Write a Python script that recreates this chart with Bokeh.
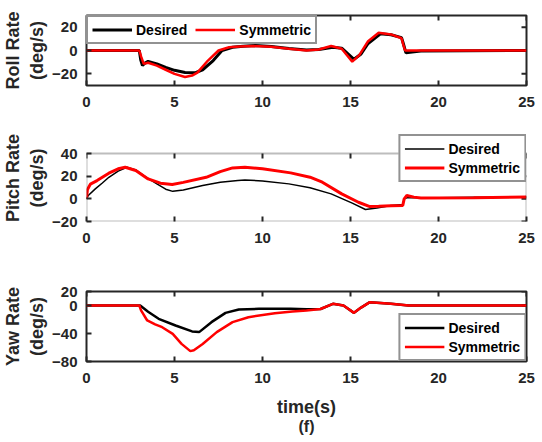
import numpy as np
from bokeh.plotting import figure
from bokeh.layouts import column
from bokeh.models import FixedTicker, Legend, LegendItem, Title, Range1d, BoxAnnotation
from bokeh.embed import file_html
from bokeh.resources import INLINE

# ---------------- data ----------------
roll_des_t = [0, 3.0, 3.08, 3.18, 3.3, 3.5, 4.0, 4.5, 5.0, 5.6, 6.2, 6.6, 7.2, 7.7, 8.3, 8.9, 9.6,
              10.5, 11.5, 12.5, 13.2, 14.0, 14.5, 15.2, 15.6, 16.0, 16.7, 17.3, 17.9, 18.0, 18.15,
              18.5, 19.0, 25]
roll_des_y = [0, 0, -8, -12.8, -11, -9.3, -11.5, -14.5, -17, -18.8, -19, -16.5, -8.6, 0, 2.8, 3.6,
              4.2, 3.5, 1.8, 0.5, 0.8, 2.8, 2.0, -7.5, -3, 6, 14.3, 13.5, 11, 6, -2, -1.2, -0.5, 0]
roll_sym_t = [0, 3.0, 3.1, 3.25, 3.5, 4.0, 4.5, 5.0, 5.6, 6.0, 6.3, 6.9, 7.5, 8.1, 8.7, 9.5, 10.5,
              11.5, 12.5, 13.2, 13.9, 14.5, 15.1, 15.5, 16.0, 16.6, 17.3, 17.9, 18.0, 18.1, 25]
roll_sym_y = [0, 0, -5, -11.5, -10.5, -13, -16.5, -20, -22.7, -21.5, -19, -8.6, 0, 2.8, 3.5, 3.8,
              3.2, 1.5, 0, 0.8, 3.8, 1.5, -9.5, -4, 8, 15.2, 13.8, 10.5, 5, 0, 0]

pitch_des_t = [0, 0.1, 0.5, 0.9, 1.27, 1.8, 2.3, 2.8, 3.4, 4.0, 4.5, 4.9, 5.5, 6.6, 7.6, 8.6, 9.0,
               10.0, 11.5, 12.7, 13.9, 15.1, 15.85, 16.5, 17.3, 17.97, 18.05, 18.2, 19, 20, 22, 25]
pitch_des_y = [0, 3, 8.8, 14, 19, 24.5, 27.9, 25.5, 19, 13.2, 8.5, 6.6, 7.8, 11.7, 14.6, 16.2, 16.7,
               15.8, 13.2, 9.7, 4.4, -3.8, -9.4, -8, -5.9, -5, 0, 1, 1, 1, 1.3, 1.6]
pitch_sym_t = [0, 0.05, 0.22, 0.6, 1.27, 1.8, 2.2, 2.8, 3.5, 4.2, 4.87, 5.5, 6.8, 7.6, 8.3, 9.0, 10,
               11.6, 12.7, 13.4, 14.5, 15.45, 16.1, 16.6, 17.3, 17.97, 18.05, 18.2, 18.6, 19, 22, 25]
pitch_sym_y = [0, 8, 13, 16.1, 22.6, 26.5, 27.9, 25, 17.6, 13.8, 12.6, 14.5, 19, 24, 27.3, 27.9,
               26.5, 22.9, 19.1, 14.7, 4.4, -3, -6.8, -6.5, -6, -5.8, 0, 2.9, 1.5, 0.7, 1, 1.6]

yaw_des_t = [0, 3.05, 3.5, 4.1, 5.06, 6.0, 6.4, 7.1, 7.9, 8.65, 9.8, 11.6, 12.5, 13.3, 14.0, 14.6,
             15.2, 15.6, 16.1, 17.3, 18.3, 25]
yaw_des_y = [0, 0, -9, -19, -28.6, -37, -38, -23.8, -10.5, -5.7, -4.8, -4.8, -5.5, -5, 2.4, 0,
             -10.5, -3, 4.8, 2.4, 0, 0]
yaw_sym_t = [0, 3.0, 3.1, 3.45, 3.9, 4.3, 4.9, 5.4, 5.9, 6.1, 6.6, 7.4, 8.3, 9.2, 10.7, 11.7, 12.5,
             13.3, 14.0, 14.6, 15.2, 15.6, 16.1, 17.3, 18.3, 25]
yaw_sym_y = [0, 0, -7, -21.4, -27, -31, -40.5, -54.8, -65.2, -64, -55, -38, -23.8, -16.7, -11, -8.6,
             -7, -5, 2.4, 0, -10.5, -3, 4.8, 2.4, 0, 0]

x_lim = (0, 25)
x_ticks = [0, 5, 10, 15, 20, 25]
roll_lim = (-30, 30)
roll_ticks = [-20, 0, 20]
pitch_lim = (-20, 40)
pitch_ticks = [-20, 0, 20, 40]
yaw_lim = (-80, 20)
yaw_ticks = [-80, -40, 0, 20]

FONT = "Liberation Sans"
TXT = "#262626"


def make_panel(ylabel, ylim, yticks, frame_h, top, bottom, extra_top_px=0):
    # extra_top_px: frame extends above the axes box (room for an outside legend)
    ppu = frame_h / (ylim[1] - ylim[0])
    yr = Range1d(ylim[0], ylim[1] + extra_top_px / ppu)
    p = figure(width=542, frame_width=440, frame_height=frame_h + extra_top_px,
               min_border_left=86, min_border_right=16, min_border_top=top,
               min_border_bottom=bottom,
               x_range=Range1d(*x_lim), y_range=yr,
               output_backend="svg", toolbar_location=None)
    p.grid.visible = False
    p.background_fill_color = "white"
    p.border_fill_color = "white"
    if extra_top_px:
        p.outline_line_color = None
        p.add_layout(BoxAnnotation(left=x_lim[0], right=x_lim[1], bottom=ylim[0], top=ylim[1],
                                   fill_alpha=0, line_color=TXT, line_width=2))
    else:
        p.outline_line_color = TXT
        p.outline_line_width = 2
    p.xaxis.ticker = FixedTicker(ticks=x_ticks)
    p.yaxis.ticker = FixedTicker(ticks=yticks)
    p.yaxis.bounds = ylim
    for ax in p.xaxis + p.yaxis:
        ax.axis_line_color = None
        ax.major_tick_in = 5
        ax.major_tick_out = 0
        ax.major_tick_line_color = TXT
        ax.major_tick_line_width = 2
        ax.minor_tick_line_color = None
        ax.major_label_text_font = FONT
        ax.major_label_text_font_style = "bold"
        ax.major_label_text_font_size = "15px"
        ax.major_label_text_color = TXT
    p.xaxis.major_label_standoff = 11
    p.yaxis.major_label_standoff = 9
    p.yaxis.axis_label = ylabel
    p.yaxis.axis_label_text_font = FONT
    p.yaxis.axis_label_text_font_style = "bold"
    p.yaxis.axis_label_text_font_size = "18px"
    p.yaxis.axis_label_text_color = TXT
    p.yaxis.axis_label_standoff = 2
    # inward box ticks on the top and right edges
    p.ray(x=x_ticks, y=[ylim[1]] * len(x_ticks), length=5, length_units="screen",
          angle=-np.pi / 2, line_color=TXT, line_width=2)
    p.ray(x=[x_lim[1]] * len(yticks), y=yticks, length=5, length_units="screen",
          angle=np.pi, line_color=TXT, line_width=2)
    return p


def style_legend(lg):
    lg.label_text_font = FONT
    lg.label_text_font_style = "bold"
    lg.label_text_font_size = "14px"
    lg.label_text_color = "black"
    lg.border_line_color = TXT
    lg.border_line_width = 2
    lg.background_fill_color = "white"
    lg.background_fill_alpha = 1
    lg.glyph_width = 40
    lg.glyph_height = 17
    lg.label_height = 17
    lg.label_standoff = 4
    lg.padding = 4
    lg.spacing = 2
    lg.margin = 0


# ---- Roll ----
p1 = make_panel("Roll Rate\n(deg/s)", roll_lim, roll_ticks, 70, 15, 49)
r1a = p1.line(roll_des_t, roll_des_y, line_color="black", line_width=3)
r1b = p1.line(roll_sym_t, roll_sym_y, line_color="red", line_width=2.5)
lg1 = Legend(items=[LegendItem(label="Desired", renderers=[r1a]),
                    LegendItem(label="Symmetric", renderers=[r1b])],
             location="top_left", orientation="horizontal")
style_legend(lg1)
lg1.spacing = 8
p1.add_layout(lg1, "center")

# ---- Pitch ----
p2 = make_panel("Pitch Rate\n(deg/s)", pitch_lim, pitch_ticks, 68, 0, 55, extra_top_px=19)
r2a = p2.line(pitch_des_t, pitch_des_y, line_color="black", line_width=1.5)
r2b = p2.line(pitch_sym_t, pitch_sym_y, line_color="red", line_width=3)
lg2 = Legend(items=[LegendItem(label="Desired", renderers=[r2a]),
                    LegendItem(label="Symmetric", renderers=[r2b])],
             location="top_right")
style_legend(lg2)
p2.add_layout(lg2, "center")

# ---- Yaw ----
p3 = make_panel("Yaw Rate\n(deg/s)", yaw_lim, yaw_ticks, 70, 15, 81)
r3a = p3.line(yaw_des_t, yaw_des_y, line_color="black", line_width=2.5)
r3b = p3.line(yaw_sym_t, yaw_sym_y, line_color="red", line_width=2.5)
lg3 = Legend(items=[LegendItem(label="Desired", renderers=[r3a]),
                    LegendItem(label="Symmetric", renderers=[r3b])],
             location="bottom_right")
style_legend(lg3)
p3.add_layout(lg3, "center")
xa = p3.below[0]
xa.axis_label = "time(s)"
xa.axis_label_text_font = FONT
xa.axis_label_text_font_style = "bold"
xa.axis_label_text_font_size = "18px"
xa.axis_label_text_color = TXT
xa.axis_label_standoff = 11
p3.add_layout(Title(text="(f)", align="center", text_font=FONT, text_font_style="bold",
                    text_font_size="16px", text_color=TXT, standoff=-7), "below")

layout = column(p1, p2, p3, spacing=0)
open("out.html", "w").write(file_html(layout, INLINE))
